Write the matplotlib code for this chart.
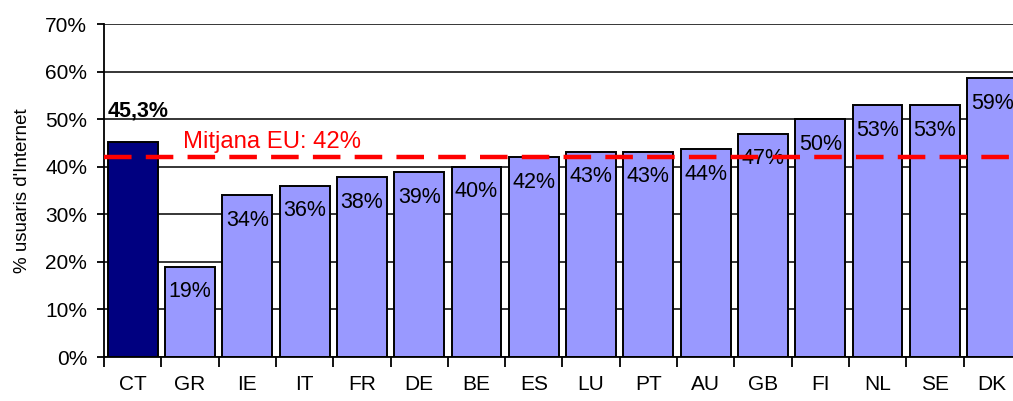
import numpy as np
import matplotlib.pyplot as plt

# Internet users by country (% of population)
countries = ['CT', 'GR', 'IE', 'IT', 'FR', 'DE', 'BE', 'ES', 'LU', 'PT',
             'AU', 'GB', 'FI', 'NL', 'SE', 'DK']
values = [45.3, 19, 34, 36, 37.8, 38.9, 40, 42, 43.2, 43.2, 43.7, 47, 50, 52.9, 52.9, 58.6]
labels = ['45,3%', '19%', '34%', '36%', '38%', '39%', '40%', '42%', '43%', '43%',
          '44%', '47%', '50%', '53%', '53%', '59%']
eu_mean = 42
eu_label = 'Mitjana EU: 42%'

plt.rcParams['font.family'] = ['Liberation Sans', 'DejaVu Sans']

fig = plt.figure(figsize=(10.13, 4.01), dpi=100)
ax = fig.add_axes([0.1027, 0.1097, 0.905, 0.830])

x = np.arange(len(countries))
colors = ['#000080'] + ['#9999FF'] * (len(countries) - 1)
bars = ax.bar(x, values, width=0.87, color=colors, edgecolor='black',
              linewidth=1.4, zorder=2)

# gridlines
ax.set_ylim(0, 70)
ax.set_xlim(-0.5, len(countries) - 0.5)
ax.set_yticks(np.arange(0, 71, 10))
ax.set_yticklabels([f'{v}%' for v in range(0, 71, 10)])
ax.yaxis.grid(True, color='black', linewidth=1.1, zorder=0)
ax.set_axisbelow(True)

for s in ['top', 'right']:
    ax.spines[s].set_visible(False)
ax.spines['left'].set_linewidth(1.3)
ax.spines['bottom'].set_linewidth(1.3)

ax.set_xticks(x)
ax.set_xticklabels(countries)
ax.set_xticks(np.arange(-0.5, len(countries), 1), minor=True)
ax.tick_params(axis='x', which='major', length=0, pad=13, labelsize=15)
ax.tick_params(axis='x', which='minor', length=7, width=1.3)
ax.tick_params(axis='y', length=5, width=1.3, pad=7, labelsize=15)

ax.set_ylabel("% usuaris d'Internet", fontsize=13.5, labelpad=10)

# value labels
for i, (v, lab) in enumerate(zip(values, labels)):
    if i == 0:
        ax.annotate(lab, (i - 0.43, v), xytext=(0, 18), textcoords='offset points',
                    ha='left', va='baseline', fontsize=15.5, fontweight='bold')
    else:
        ax.annotate(lab, (i, v), xytext=(0, -18), textcoords='offset points',
                    ha='center', va='center', fontsize=15.5, zorder=3)

# EU mean line
ax.axhline(eu_mean, color='#FF0000', linewidth=3.2, linestyle=(0, (6.2, 3.2)),
           zorder=4)
ax.text(0.88, 44.0, eu_label, color='#FF0000', fontsize=17.2, va='baseline',
        ha='left', zorder=4)

fig.savefig('out.png', dpi=100)
